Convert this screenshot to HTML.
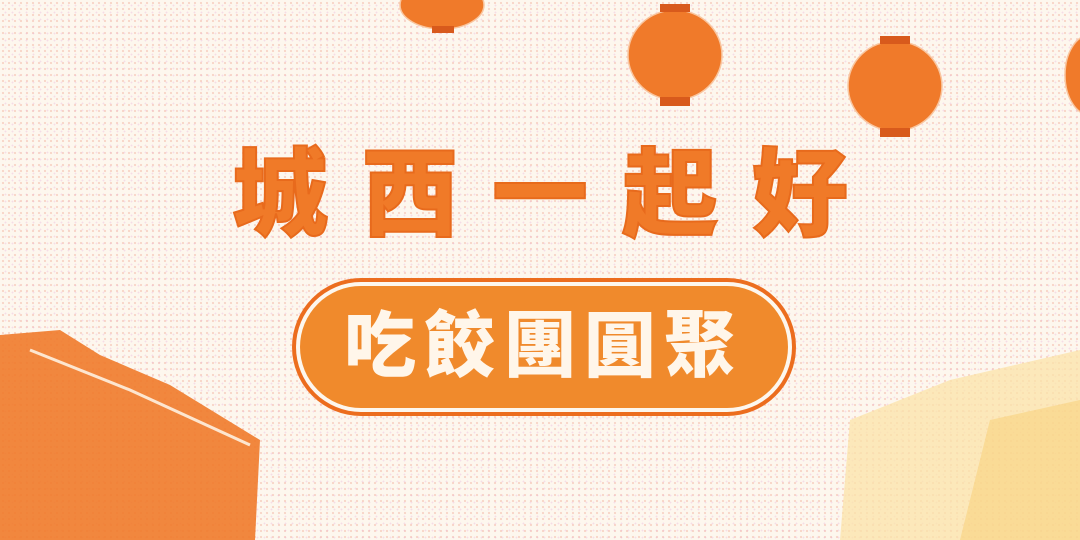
<!DOCTYPE html>
<html><head><meta charset="utf-8">
<style>
html,body{margin:0;padding:0}
body{width:1080px;height:540px;overflow:hidden;position:relative;background:#fdf7ee;font-family:"Liberation Sans","Noto Sans CJK TC",sans-serif}
.dots{position:absolute;inset:0;background-image:radial-gradient(circle,#f2b7a6 0.9px,transparent 1.3px);background-size:6px 6px;opacity:.55}
.dots2{position:absolute;inset:0;background-image:radial-gradient(circle,#e9a9d6 0.7px,transparent 1.1px);background-size:7px 7px;background-position:2px 2px;opacity:.35}
.title{position:absolute;left:190px;top:138px;width:700px;text-align:center;font-size:96px;font-weight:900;color:#f07a28;letter-spacing:34px;text-indent:34px;line-height:116px;-webkit-text-stroke:2px #e86a1c}
.pill{position:absolute;left:300px;top:286px;width:488px;height:122px;border-radius:61px;background:#f08a2c;box-shadow:0 0 0 4px #fdf7ee,0 0 0 8px #ec6d1e;box-sizing:border-box}
.pill span{position:absolute;left:0;right:0;top:18px;text-align:center;font-size:72px;font-weight:900;color:#fff6ea;letter-spacing:8px;line-height:86px}
svg{position:absolute;left:0;top:0}
</style></head><body>
<div class="dots"></div>
<div class="dots2"></div>
<svg width="1080" height="540">
 <g fill="#f07a2a" stroke="#f9c6a0" stroke-width="1.5">
  <ellipse cx="442" cy="5" rx="42" ry="24"/>
  <ellipse cx="675" cy="55" rx="47" ry="45"/>
  <ellipse cx="895" cy="86" rx="47" ry="45"/>
  <ellipse cx="1090" cy="75" rx="25" ry="40"/>
 </g>
 <g fill="#d85a1c"><rect x="660" y="97" width="30" height="9"/><rect x="880" y="128" width="30" height="9"/><rect x="432" y="26" width="22" height="7"/><rect x="660" y="4" width="30" height="8"/><rect x="880" y="36" width="30" height="8"/></g>
 <path d="M0 335 L60 330 L100 355 L170 385 L260 440 L255 540 L0 540 Z" fill="#ef7a2a" opacity=".9"/>
 <path d="M30 350 L130 390 L250 445" stroke="#fde6d0" stroke-width="3" fill="none"/>
 <path d="M840 540 L850 420 L950 380 L1080 350 L1080 540 Z" fill="#fbe3a8" opacity=".75"/>
 <path d="M960 540 L990 420 L1080 400 L1080 540 Z" fill="#f8cf78" opacity=".55"/>
</svg>
<div class="title">城西一起好</div>
<div class="pill"><span>吃餃團圓聚</span></div>
</body></html>
